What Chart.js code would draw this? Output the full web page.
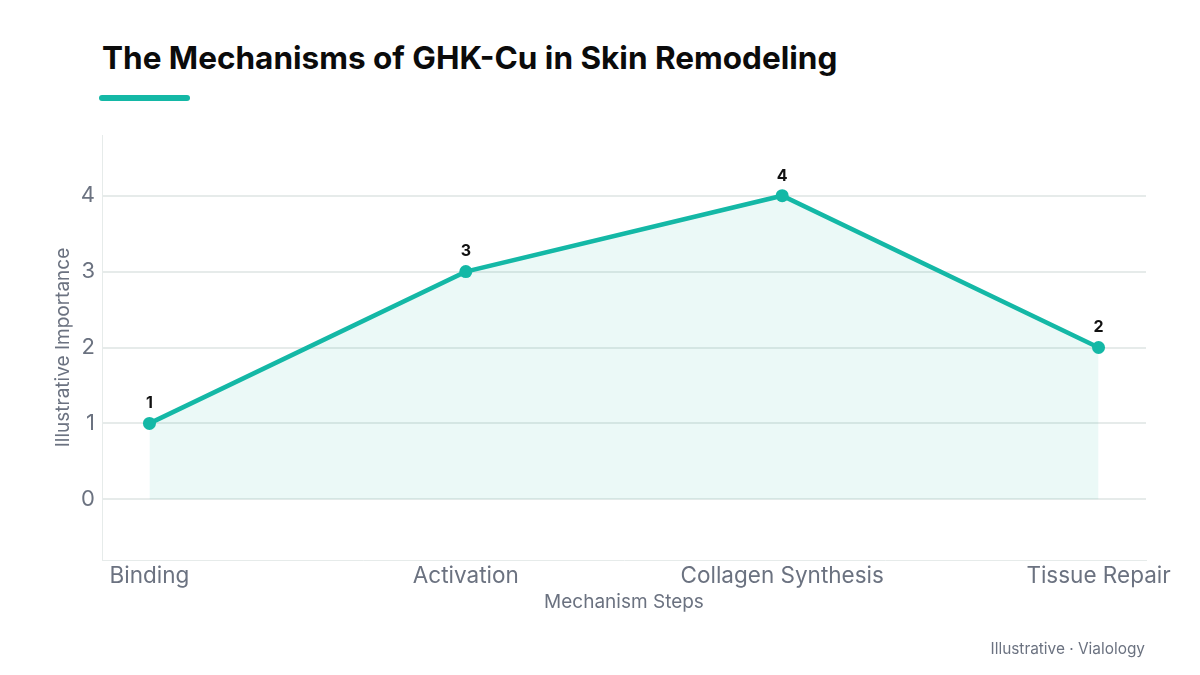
<!DOCTYPE html>
<html>
<head>
<meta charset="utf-8">
<script src="https://cdn.jsdelivr.net/npm/chart.js@4.4.0/dist/chart.umd.min.js"></script>
<style>
  html, body { margin: 0; padding: 0; background: #ffffff; }
  #wrap { position: relative; width: 1200px; height: 675px; overflow: hidden; font-family: Inter, "Noto Sans", sans-serif; }
  #title { position: absolute; left: 102px; top: 38px; font-size: 31.5px; font-weight: 700; color: #0b0b0b; white-space: nowrap; line-height: 40px; }
  #bar { position: absolute; left: 99px; top: 95px; width: 91px; height: 6px; border-radius: 3px; background: #14b8a6; }
  #foot { position: absolute; right: 55px; top: 639px; font-size: 15.4px; color: #6b7280; white-space: nowrap; }
  canvas { position: absolute; left: 0; top: 0; }
</style>
</head>
<body>
<div id="wrap">
  <div id="title">The Mechanisms of GHK-Cu in Skin Remodeling</div>
  <div id="bar"></div>
  <canvas id="c" width="1200" height="675"></canvas>
  <div id="foot">Illustrative · Vialology</div>
</div>
<script>
const categories = ["Binding", "Activation", "Collagen Synthesis", "Tissue Repair"];
const importance = [1, 3, 4, 2];
const yTicks = [0, 1, 2, 3, 4];

const TEAL = "#14b8a6";
const GRID = "#e6ebea";
const TICK = "#6b7280";
const FONT = "Inter, 'Noto Sans', sans-serif";

const points = importance.map((v, i) => ({ x: i, y: v }));

const labelPlugin = {
  id: "valueLabels",
  afterDatasetsDraw(chart) {
    const ctx = chart.ctx;
    const meta = chart.getDatasetMeta(0);
    ctx.save();
    ctx.font = "700 16px " + FONT;
    ctx.fillStyle = "#111111";
    ctx.textAlign = "center";
    ctx.textBaseline = "bottom";
    meta.data.forEach((pt, i) => {
      ctx.fillText(String(importance[i]), pt.x, pt.y - 12);
    });
    ctx.restore();
  }
};

new Chart(document.getElementById("c"), {
  type: "line",
  data: {
    datasets: [{
      data: points,
      borderColor: TEAL,
      borderWidth: 4.5,
      backgroundColor: "rgba(20,184,166,0.085)",
      fill: "origin",
      pointRadius: 6.5,
      pointHoverRadius: 6.5,
      pointBackgroundColor: TEAL,
      pointBorderColor: TEAL,
      pointBorderWidth: 0,
      tension: 0
    }]
  },
  options: {
    responsive: false,
    animation: false,
    devicePixelRatio: 1,
    layout: { padding: { top: 135, right: 54, bottom: 61, left: 52 } },
    plugins: { legend: { display: false }, tooltip: { enabled: false } },
    scales: {
      x: {
        type: "linear",
        min: -0.15,
        max: 3.15,
        afterBuildTicks(scale) { scale.ticks = categories.map((c, i) => ({ value: i })); },
        afterFit(scale) { scale.height = 54; },
        grid: { display: false, drawTicks: false },
        border: { display: true, color: GRID, width: 1 },
        ticks: {
          padding: 3,
          color: TICK,
          font: { family: FONT, size: 22.5 },
          maxRotation: 0,
          autoSkip: false,
          callback: (v) => categories[v] ?? ""
        },
        title: {
          display: true,
          text: "Mechanism Steps",
          color: TICK,
          font: { family: FONT, size: 19 },
          padding: { top: 0, bottom: 0 }
        }
      },
      y: {
        min: -0.8,
        max: 4.8,
        afterBuildTicks(scale) { scale.ticks = yTicks.map(v => ({ value: v })); },
        afterFit(scale) { scale.width = 102 - 52; },
        grid: { color: GRID, lineWidth: 2, drawTicks: false },
        border: { display: true, color: GRID, width: 1 },
        ticks: {
          padding: 7,
          color: TICK,
          font: { family: FONT, size: 22 },
          callback: (v) => String(v)
        },
        title: {
          display: true,
          text: "Illustrative Importance",
          color: TICK,
          font: { family: FONT, size: 19 },
          padding: { top: 0, bottom: 0 }
        }
      }
    }
  },
  plugins: [labelPlugin]
});
</script>
</body>
</html>
